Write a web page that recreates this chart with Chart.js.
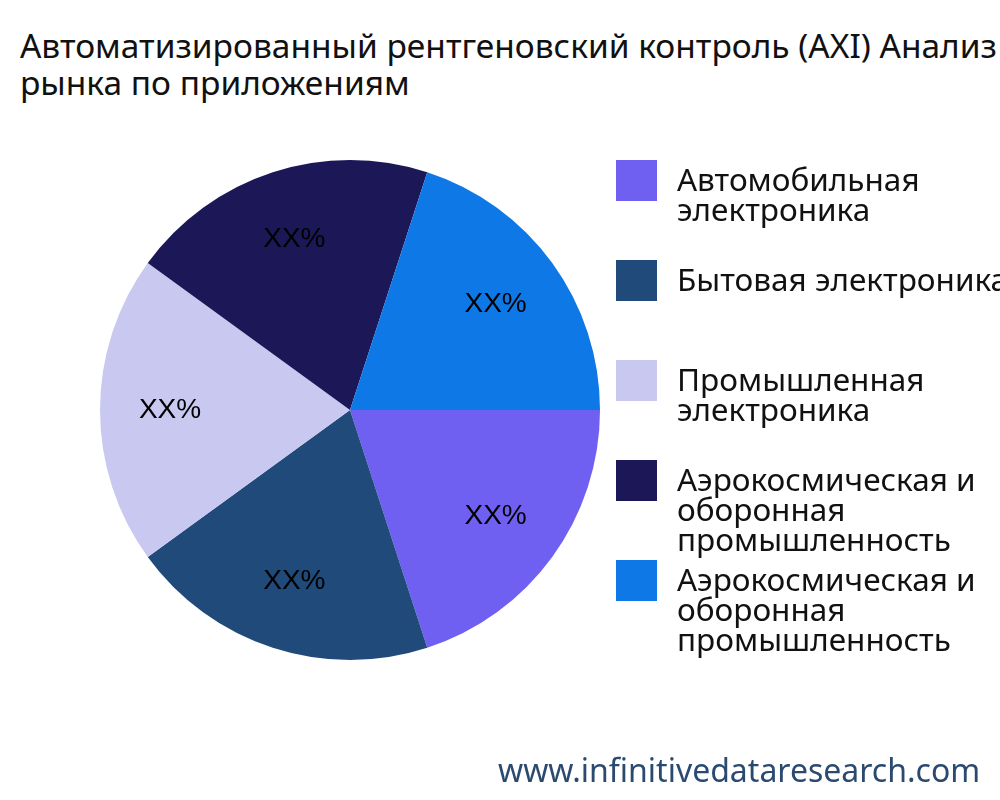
<!DOCTYPE html>
<html><head><meta charset="utf-8">
<script src="https://cdn.jsdelivr.net/npm/chart.js@4"></script>
<style>
body{margin:0;width:1000px;height:800px;overflow:hidden;background:#fff;font-family:"Noto Sans",sans-serif;position:relative}
#t{position:absolute;left:20px;top:27px;font-size:33.5px;line-height:37px;color:#111;white-space:nowrap}
#c{position:absolute;left:0;top:0}
.lg{position:absolute;left:616px;font-size:31.5px;line-height:30px;color:#111;white-space:nowrap}
.lg span{position:absolute;left:0;top:0;width:41px;height:41px}
.lg div{margin-left:61px}
#w{position:absolute;left:498px;top:748px;font-size:32px;color:#2b4a70;white-space:nowrap}
</style></head><body>
<div id="t">Автоматизированный рентгеновский контроль (AXI) Анализ<br>рынка по приложениям</div>
<canvas id="c" width="1000" height="800"></canvas>
<div id="legend"></div>
<div id="w">www.infinitivedataresearch.com</div>
<script>
const categories=["Автомобильная электроника","Бытовая электроника","Промышленная электроника","Аэрокосмическая и оборонная промышленность","Аэрокосмическая и оборонная промышленность"];
const legendLines=[["Автомобильная","электроника"],["Бытовая электроника"],["Промышленная","электроника"],["Аэрокосмическая и","оборонная","промышленность"],["Аэрокосмическая и","оборонная","промышленность"]];
const values=[20,20,20,20,20];
const labels=["XX%","XX%","XX%","XX%","XX%"];
const colors=["#7060f2","#1f4a7a","#c9c8f0","#1c1858","#0d78e6"];
const legendTops=[160,260,360,460,560];
const lg=document.getElementById('legend');
legendLines.forEach((l,i)=>{const d=document.createElement('div');d.className='lg';d.style.top=legendTops[i]+'px';
d.innerHTML='<span style="background:'+colors[i]+'"></span><div style="padding-top:4px">'+l.join('<br>')+'</div>';lg.appendChild(d);});
const lblPlugin={id:'lbl',afterDatasetsDraw(ch){const ctx=ch.ctx;const m=ch.getDatasetMeta(0);ctx.save();ctx.font='28px "Liberation Sans",sans-serif';ctx.fillStyle='#000';ctx.textAlign='center';ctx.textBaseline='middle';
m.data.forEach((a,i)=>{const ang=(a.startAngle+a.endAngle)/2;const r=a.outerRadius*0.72;ctx.fillText(labels[i],a.x+Math.cos(ang)*r,a.y+Math.sin(ang)*r);});ctx.restore();}};
new Chart(document.getElementById('c'),{type:'pie',data:{labels:categories,datasets:[{data:values,backgroundColor:colors,borderWidth:0}]},
options:{responsive:false,animation:false,rotation:90,layout:{padding:{left:100,right:400,top:160,bottom:140}},plugins:{legend:{display:false},tooltip:{enabled:false}}},plugins:[lblPlugin]});
</script></body></html>
